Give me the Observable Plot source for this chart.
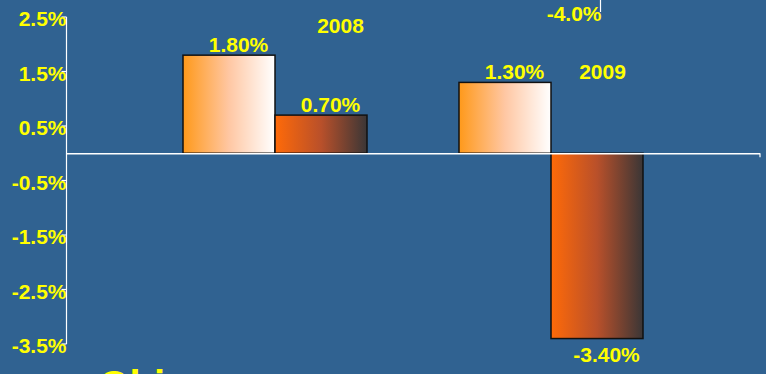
<!DOCTYPE html>
<html><head><meta charset="utf-8">
<script src="https://cdn.jsdelivr.net/npm/d3@7"></script>
<script src="https://cdn.jsdelivr.net/npm/@observablehq/plot@0.6"></script>
<style>html,body{margin:0;padding:0;background:#306291;overflow:hidden}</style>
</head><body><div id="chart"></div>
<script>
const years = ["2008", "2009"];
const seriesA = [1.80, 1.30];
const seriesB = [0.70, -3.40];
const yTicks = [2.5, 1.5, 0.5, -0.5, -1.5, -2.5, -3.5];
const yTickLabels = ["2.5%", "1.5%", "0.5%", "-0.5%", "-1.5%", "-2.5%", "-3.5%"];
const strayLabel = "-4.0%";
const footerText = "Objem";

const rows = years.flatMap((yr, i) => [
  {key: yr + " A", year: yr, series: "A", value: seriesA[i]},
  {key: yr + " B", year: yr, series: "B", value: seriesB[i]}
]);
const xDomain = years.flatMap((yr, i) => i ? ["gap", yr + " A", yr + " B"] : [yr + " A", yr + " B"]);
const fmt2 = v => v.toFixed(2) + "%";
const yellow = "#ffff00";
const font = {fontFamily: "Liberation Sans, Arial, sans-serif", fontWeight: "bold"};

const axisLines = (index, scales, values, dims) => {
  const {x, y} = scales;
  const g = d3.create("svg:g").attr("stroke", "white").attr("fill", "none").attr("stroke-width", 1.2);
  const x0 = dims.marginLeft + 0.5, x1 = dims.width - dims.marginRight;
  g.append("line").attr("x1", x0).attr("x2", x0).attr("y1", y(2.5)).attr("y2", y(-3.5));
  for (const t of yTicks) {
    g.append("line").attr("x1", x0 - 5).attr("x2", x0).attr("y1", y(t)).attr("y2", y(t));
  }
  g.append("line").attr("x1", x1).attr("x2", x1).attr("y1", y(0)).attr("y2", y(0) + 4);
  const xs = x("2009 B") + x.bandwidth() / 2 + 3.5;
  g.append("line").attr("x1", xs).attr("x2", xs).attr("y1", 0).attr("y2", y(2.5) - 5);
  return g.node();
};

const svg = Plot.plot({
  width: 766,
  height: 374,
  marginLeft: 66,
  marginRight: 6,
  marginTop: 17,
  marginBottom: 30,
  style: {background: "#306291", overflow: "hidden"},
  x: {type: "band", domain: xDomain, paddingInner: 0, paddingOuter: 1.25, axis: null},
  y: {domain: [-3.5, 2.5], axis: null},
  marks: [
    Plot.barY(rows.filter(d => d.series === "A"), {x: "key", y: "value", fill: "url(#gA)", stroke: "#111", strokeWidth: 1.5}),
    Plot.barY(rows.filter(d => d.series === "B"), {x: "key", y: "value", fill: "url(#gB)", stroke: "#111", strokeWidth: 1.5}),
    Plot.ruleY([0], {stroke: "white", strokeWidth: 1.3}),
    axisLines,
    Plot.text(yTicks, {y: d => d, text: (d, i) => yTickLabels[i], frameAnchor: "left", textAnchor: "end", dy: 2, fill: yellow, fontSize: 21, ...font}),
    Plot.text(rows.filter(d => d.value >= 0), {x: "key", y: "value", text: d => fmt2(d.value), lineAnchor: "bottom", dx: 9, dy: -4, fill: yellow, fontSize: 21, ...font}),
    Plot.text(rows.filter(d => d.value < 0), {x: "key", y: "value", text: d => fmt2(d.value), lineAnchor: "top", dx: 9, dy: 8, fill: yellow, fontSize: 21, ...font}),
    Plot.text([years[0]], {x: () => "2008 B", y: () => 2.22, text: d => d, lineAnchor: "bottom", dx: 19, fill: yellow, fontSize: 21, ...font}),
    Plot.text([years[1]], {x: () => "2009 B", y: () => seriesA[1], text: d => d, lineAnchor: "bottom", dx: 5, dy: -4, fill: yellow, fontSize: 21, ...font}),
    Plot.text([strayLabel], {x: () => "2009 B", y: () => 2.43, text: d => d, lineAnchor: "bottom", textAnchor: "end", dx: 4, fill: yellow, fontSize: 21, ...font}),
    Plot.text([footerText], {frameAnchor: "bottom-left", text: d => d, textAnchor: "start", lineAnchor: "bottom", dx: 32, dy: 54, fill: yellow, fontSize: 40, ...font})
  ]
});

const defs = d3.select(svg).insert("defs", ":first-child");
const gA = defs.append("linearGradient").attr("id", "gA").attr("x1", 0).attr("x2", 1).attr("y1", 0).attr("y2", 0);
gA.append("stop").attr("offset", 0).attr("stop-color", "#ff991a");
gA.append("stop").attr("offset", 0.5).attr("stop-color", "#ffc7a3");
gA.append("stop").attr("offset", 1).attr("stop-color", "#ffffff");
const gB = defs.append("linearGradient").attr("id", "gB").attr("x1", 0).attr("x2", 1).attr("y1", 0).attr("y2", 0);
gB.append("stop").attr("offset", 0).attr("stop-color", "#ff6a08");
gB.append("stop").attr("offset", 0.5).attr("stop-color", "#b9502a");
gB.append("stop").attr("offset", 1).attr("stop-color", "#3a3636");

document.getElementById("chart").appendChild(svg);
</script>
</body></html>
